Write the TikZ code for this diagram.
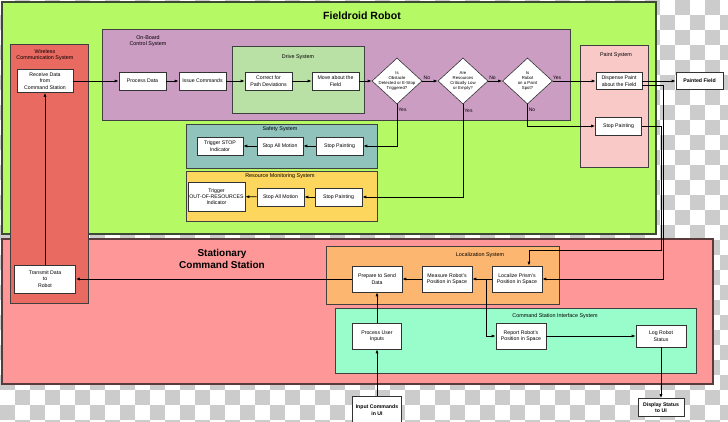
\documentclass[tikz,border=0pt]{standalone}
\usepackage{fontspec}
\setmainfont{Liberation Sans}
\usetikzlibrary{arrows.meta,shapes.geometric}
\definecolor{checkgray}{HTML}{CCCCCC}
\definecolor{robotgreen}{HTML}{B5FA64}
\definecolor{robotedge}{HTML}{3F4A36}
\definecolor{stationpink}{HTML}{FE9898}
\definecolor{stationedge}{HTML}{5A3A3A}
\definecolor{wirelessred}{HTML}{E96A61}
\definecolor{boardpurple}{HTML}{CC9DC3}
\definecolor{drivegreen}{HTML}{B9E0A5}
\definecolor{paintpink}{HTML}{F8C9C6}
\definecolor{safetyteal}{HTML}{8FC3BC}
\definecolor{resyellow}{HTML}{FDD65D}
\definecolor{locorange}{HTML}{FDB66F}
\definecolor{uimint}{HTML}{99FDCB}
\begin{document}
\begin{tikzpicture}[x=1pt,y=-1pt,
  box/.style={draw=black!80,fill=white,line width=0.6pt,align=center,inner sep=1pt,
    font=\fontsize{5.2}{6.3}\selectfont},
  boldbox/.style={box,font=\fontsize{5.2}{6.3}\selectfont\bfseries},
  decide/.style={diamond,draw=black!80,fill=white,line width=0.6pt,
    minimum width=50,minimum height=46,inner sep=0pt},
  dtext/.style={align=center,inner sep=0pt,font=\fontsize{4.3}{4.8}\selectfont},
  grp/.style={align=center,font=\fontsize{5.4}{6.2}\selectfont},
  tag/.style={inner sep=1pt,font=\fontsize{5}{6}\selectfont},
  frame/.style={draw=black!75,line width=0.8pt},
  flow/.style={-{Latex[length=4pt,width=3pt]},line width=0.7pt}]
\useasboundingbox (0,0) rectangle (728,422);

% transparent background
\foreach \i in {0,...,48}
  \foreach \j in {0,...,28}
    {\pgfmathtruncatemacro\odd{mod(\i+\j,2)}
     \ifnum\odd=1 \fill[checkgray] (15*\i,15*\j) rectangle ++(15,15);\fi}

% the two halves
\draw[draw=robotedge,line width=1.6pt,fill=robotgreen] (2,2) rectangle (656,234);
\node[font=\fontsize{10.5}{12}\selectfont\bfseries] (robottitle) at (362,16) {Fieldroid Robot};

\draw[draw=stationedge,line width=1.6pt,fill=stationpink] (2,239) rectangle (713,384);
\node[align=center,font=\fontsize{10}{12}\selectfont\bfseries] (stationtitle) at (222,259) {Stationary\\Command Station};

% subsystems
\draw[frame,fill=wirelessred] (10,44) rectangle (88,303);
\node[grp] (wirelesstitle) at (45,55) {Wireless\\Communication System};

\draw[frame,fill=boardpurple] (102,29) rectangle (570,120);
\node[grp] (boardtitle) at (148,41) {On-Board\\Control System};

\draw[frame,fill=drivegreen] (232,46) rectangle (364,113);
\node[grp] (drivetitle) at (298,57) {Drive System};

\draw[frame,fill=paintpink] (580,45) rectangle (648,167);
\node[grp] (painttitle) at (616,55) {Paint System};

\draw[frame,fill=safetyteal] (186,124) rectangle (377,168);
\node[grp] (safetytitle) at (280,129.5) {Safety System};

\draw[frame,fill=resyellow] (186,171) rectangle (377,221);
\node[grp] (restitle) at (280,176) {Resource Monitoring System};

\draw[frame,fill=locorange] (326,246) rectangle (559,304);
\node[grp] (loctitle) at (480,255) {Localization System};

\draw[frame,fill=uimint] (335,308) rectangle (696,373);
\node[grp] (uititle) at (555,316) {Command Station Interface System};

% robot side
\node[box,minimum width=56,minimum height=23] (recv) at (45,81) {Receive Data\\from\\Command Station};
\node[box,minimum width=47,minimum height=18] (procdata) at (142.5,81) {Process Data};
\node[box,minimum width=47,minimum height=18] (issue) at (202.5,81) {Issue Commands};
\node[box,minimum width=47,minimum height=18] (correct) at (268.5,81) {Correct for\\Path Deviations};
\node[box,minimum width=47,minimum height=18] (move) at (335.5,81) {Move about the\\Field};

\node[decide,label={[dtext]center:{Is\\Obstacle\\Detected or E-Stop\\Triggered?}}] (obst) at (397,81) {};
\node[decide,label={[dtext]center:{Are\\Resources\\Critically Low\\or Empty?}}] (res) at (463,81) {};
\node[decide,label={[dtext]center:{Is\\Robot\\on a Paint\\Spot?}}] (spot) at (527.5,81) {};

\node[box,minimum width=46,minimum height=17] (dispense) at (619,81) {Dispense Paint\\about the Field};
\node[boldbox,minimum width=47,minimum height=17] (painted) at (699.5,81) {Painted Field};
\node[box,minimum width=46,minimum height=18] (pstop) at (618.5,126) {Stop Painting};

\node[box,minimum width=47,minimum height=18] (sstop) at (339.5,146) {Stop Painting};
\node[box,minimum width=46,minimum height=18] (smotion) at (280,146) {Stop All Motion};
\node[box,minimum width=46,minimum height=18] (strig) at (220,146) {Trigger STOP\\Indicator};

\node[box,minimum width=47,minimum height=18] (rstop) at (338.5,197) {Stop Painting};
\node[box,minimum width=47,minimum height=18] (rmotion) at (280.5,197) {Stop All Motion};
\node[box,inner xsep=0.5pt,minimum width=57,minimum height=29] (rtrig) at (216.5,196.5) {Trigger\\OUT-OF-RESOURCES\\Indicator};

% station side
\node[box,minimum width=61,minimum height=28] (transmit) at (45,279) {Transmit Data\\to\\Robot};
\node[box,minimum width=50,minimum height=26] (prepare) at (377,279) {Prepare to Send\\Data};
\node[box,minimum width=50,minimum height=26] (measure) at (447,279) {Measure Robot's\\Position in Space};
\node[box,minimum width=50,minimum height=26] (localize) at (517,279) {Localize Prism's\\Position in Space};
\node[box,minimum width=49,minimum height=26] (process) at (377,336) {Process User\\Inputs};
\node[box,minimum width=50,minimum height=26] (report) at (521,336) {Report Robot's\\Position in Space};
\node[box,minimum width=50,minimum height=22] (log) at (661,336) {Log Robot\\Status};
\node[boldbox,minimum width=49,minimum height=28] (input) at (377,410) {Input Commands\\in UI};
\node[boldbox,minimum width=46,minimum height=18] (display) at (661,407.5) {Display Status\\to UI};

\coordinate (split) at (486,279);
\coordinate (bend) at (661,250);

% connectors
\draw[flow] (recv) -- (procdata);
\draw[flow] (procdata) -- (issue);
\draw[flow] (issue) -- (correct);
\draw[flow] (correct) -- (move);
\draw[flow] (move) -- (obst);
\draw[flow] (obst) -- node[tag,above,pos=0.3] {No} (res);
\draw[flow] (res) -- node[tag,above,pos=0.3] {No} (spot);
\draw[flow] (spot) -- node[tag,above,pos=0.1] {Yes} (dispense);
\draw[flow] (dispense) -- (painted);

\draw[flow] (obst.south) |- node[tag,right,pos=0.07] {Yes} (sstop.east);
\draw[flow] (res.south) |- node[tag,right,pos=0.035] {Yes} (rstop.east);
\draw[flow] (spot.south) |- node[tag,right,pos=0.13] {No} (pstop.west);

\draw[flow] (sstop) -- (smotion);
\draw[flow] (smotion) -- (strig);
\draw[flow] (rstop) -- (rmotion);
\draw[flow] (rmotion) -- (rtrig);

\draw[flow] ([yshift=-4pt]dispense.east) -- ++(21,0) |- (localize.east);
\draw[flow] (pstop.east) -| (bend) -| ([xshift=12pt]localize.north);

\draw[flow] (localize) -- (measure);
\draw[flow] (measure) -- (prepare);
\draw[flow] (prepare) -- (transmit);
\draw[flow] (transmit) -- (recv);
\draw[flow] (split) |- (report.west);
\draw[flow] (report) -- (log);
\draw[flow] (log) -- (display);
\draw[flow] (input) -- (process);
\draw[flow] (process) -- (prepare);
\end{tikzpicture}
\end{document}
